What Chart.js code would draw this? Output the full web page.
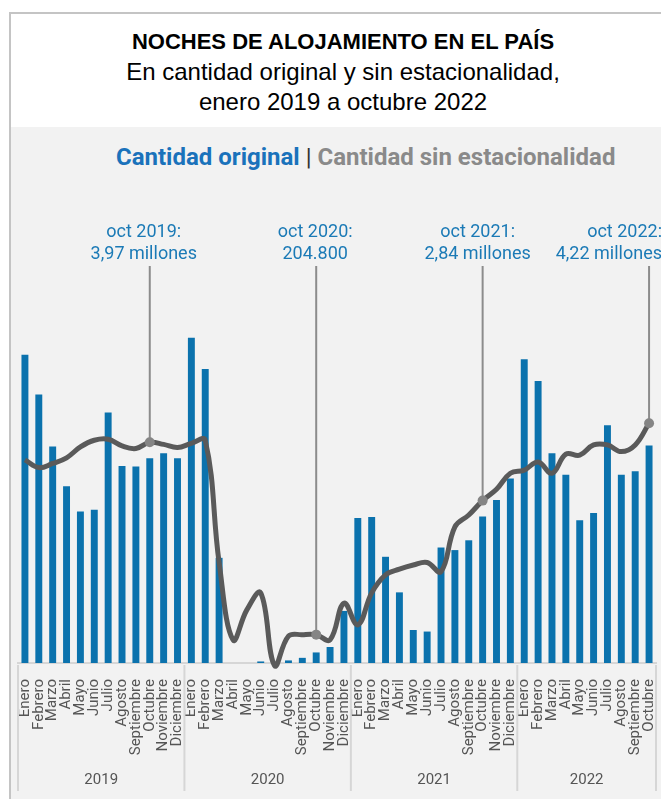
<!DOCTYPE html>
<html lang="es">
<head>
<meta charset="utf-8">
<title>Noches de alojamiento en el país</title>
<script src="https://cdn.jsdelivr.net/npm/chart.js@4.4.1/dist/chart.umd.min.js"></script>
<style>
    html, body { margin: 0; padding: 0; background: #ffffff; overflow: hidden; }
    body { width: 661px; height: 799px; position: relative; font-family: Roboto, sans-serif; }
    .card { position: absolute; left: 9px; top: 12px; width: 670px; height: 800px; border: 2px solid #c4c4c4; background: #f2f2f2; }
    .head { position: absolute; left: 0; top: 0; width: 664px; height: 113px; background: #ffffff; text-align: center; font-family: "Liberation Sans", Arial, sans-serif; color: #000; }
    .head .t1 { position: absolute; left: 0; right: 0; top: 15px; font-size: 22px; font-weight: bold; }
    .head .t2 { position: absolute; left: 0; right: 0; top: 44px; font-size: 24px; }
    .head .t3 { position: absolute; left: 0; right: 0; top: 74px; font-size: 24px; }
    .legend { position: absolute; left: 116px; top: 143px; font-size: 24px; font-weight: bold; white-space: nowrap; }
    .legend .a { color: #1a72bb; }
    .legend .sep { color: #333333; font-weight: normal; }
    .legend .b { color: #8a8a8a; }
    #chart { position: absolute; left: 0; top: 0; }
</style>
</head>
<body>
<div class="card">
    <div class="head">
        <div class="t1">NOCHES DE ALOJAMIENTO EN EL PAÍS</div>
        <div class="t2">En cantidad original y sin estacionalidad,</div>
        <div class="t3">enero 2019 a octubre 2022</div>
    </div>
</div>
<div class="legend"><span class="a">Cantidad original</span><span class="sep"> | </span><span class="b">Cantidad sin estacionalidad</span></div>
<canvas id="chart" width="661" height="799"></canvas>

<script>
// meses y años
const meses = ['Enero', 'Febrero', 'Marzo', 'Abril', 'Mayo', 'Junio', 'Julio', 'Agosto',
    'Septiembre', 'Octubre', 'Noviembre', 'Diciembre'];
const anios = ['2019', '2020', '2021', '2022'];
const mesesPorAnio = [12, 12, 12, 10];

// millones de noches
const cantidadOriginal = [
    5.98, 5.21, 4.20, 3.43, 2.94, 2.97, 4.86, 3.82, 3.81, 3.97, 4.07, 3.97,
    6.31, 5.70, 2.04, 0, 0, 0.03, 0.02, 0.05, 0.10, 0.2048, 0.31, 1.01,
    2.81, 2.83, 2.06, 1.37, 0.64, 0.61, 2.24, 2.19, 2.38, 2.84, 3.16, 3.58,
    5.89, 5.47, 4.07, 3.65, 2.77, 2.91, 4.61, 3.65, 3.72, 4.22
];
const sinEstacionalidad = [
    3.94, 3.79, 3.87, 3.98, 4.19, 4.32, 4.34, 4.21, 4.16, 4.28, 4.24, 4.18,
    4.26, 4.32, 1.95, 0.45, 1.03, 1.36, -0.05, 0.52, 0.55, 0.55, 0.45, 1.16,
    0.74, 1.36, 1.71, 1.82, 1.90, 1.95, 1.77, 2.64, 2.87, 3.15, 3.37, 3.68,
    3.74, 3.90, 3.68, 4.05, 4.03, 4.23, 4.23, 4.10, 4.23, 4.65
];

// anotaciones (octubre de cada año)
const notaIndice = [9, 21, 33, 45];
const notaLinea1 = ['oct 2019:', 'oct 2020:', 'oct 2021:', 'oct 2022:'];
const notaLinea2 = ['3,97 millones', '204.800', '2,84 millones', '4,22 millones'];

const etiquetas = [];
anios.forEach((a, k) => {
    for (let m = 0; m < mesesPorAnio[k]; m++) etiquetas.push(meses[m]);
});

const puntoRadio = etiquetas.map((_, i) => notaIndice.includes(i) ? 5 : 0);

const notasPlugin = {
    id: 'notas',
    beforeDatasetsDraw(chart) {
        const { ctx, chartArea, scales } = chart;
        ctx.save();
        ctx.strokeStyle = '#8c8c8c';
        ctx.lineWidth = 2;
        notaIndice.forEach(i => {
            const x = scales.x.getPixelForValue(i);
            const y = scales.y.getPixelForValue(sinEstacionalidad[i]);
            ctx.beginPath();
            ctx.moveTo(x, chartArea.top);
            ctx.lineTo(x, y);
            ctx.stroke();
        });
        ctx.restore();
    },
    afterDraw(chart) {
        const { ctx, scales, chartArea } = chart;
        const desplaz = [-6, -1, -5];
        ctx.save();
        ctx.font = '18px Roboto';
        ctx.fillStyle = '#1b7ab6';
        ctx.textBaseline = 'middle';
        notaIndice.forEach((i, k) => {
            let x;
            if (k < desplaz.length) {
                ctx.textAlign = 'center';
                x = scales.x.getPixelForValue(i) + desplaz[k];
            } else {
                // la última queda pegada al borde derecho
                ctx.textAlign = 'right';
                x = chart.width + 1;
            }
            ctx.fillText(notaLinea1[k], x, chartArea.top - 34);
            ctx.fillText(notaLinea2[k], x, chartArea.top - 12);
        });

        // separadores y años
        const paso = scales.x.getPixelForValue(1) - scales.x.getPixelForValue(0);
        const yBase = chartArea.bottom + 2;
        ctx.strokeStyle = '#d6d6d6';
        ctx.lineWidth = 2;
        ctx.fillStyle = '#555555';
        ctx.textAlign = 'center';
        ctx.font = '15px Roboto';
        let inicio = 0;
        anios.forEach((a, k) => {
            const x0 = scales.x.getPixelForValue(inicio) - paso / 2;
            const x1 = scales.x.getPixelForValue(inicio + mesesPorAnio[k] - 1) + paso / 2;
            ctx.beginPath();
            ctx.moveTo(x0, yBase);
            ctx.lineTo(x0, yBase + 126);
            ctx.stroke();
            if (k === anios.length - 1) {
                ctx.beginPath();
                ctx.moveTo(x1, yBase);
                ctx.lineTo(x1, yBase + 126);
                ctx.stroke();
            }
            ctx.fillText(a, (x0 + x1) / 2, yBase + 115);
            inicio += mesesPorAnio[k];
        });
        ctx.restore();
    }
};

new Chart(document.getElementById('chart'), {
    type: 'bar',
    data: {
        labels: etiquetas,
        datasets: [{
            type: 'line',
            label: 'Cantidad sin estacionalidad',
            data: sinEstacionalidad,
            borderColor: '#5a5a5a',
            borderWidth: 5,
            tension: 0.4,
            pointRadius: puntoRadio,
            pointBackgroundColor: '#858585',
            pointBorderWidth: 0,
            clip: false,
            order: 0
        }, {
            label: 'Cantidad original',
            data: cantidadOriginal,
            backgroundColor: '#0b72ad',
            barPercentage: 0.5,
            categoryPercentage: 1,
            order: 1
        }]
    },
    options: {
        responsive: false,
        animation: false,
        layout: { padding: { left: 18, right: 3, top: 266, bottom: 0 } },
        plugins: {
            legend: { display: false },
            tooltip: { enabled: false }
        },
        scales: {
            x: {
                grid: { display: false },
                border: { display: true, color: '#d6d6d6', width: 2 },
                ticks: {
                    color: '#555555',
                    font: { family: 'Roboto', size: 15 },
                    minRotation: 90,
                    maxRotation: 90,
                    autoSkip: false,
                    padding: 8
                },
                afterFit(scale) {
                    scale.height = 136;
                    scale.paddingLeft = 0;
                    scale.paddingRight = 0;
                }
            },
            y: {
                display: false,
                min: 0,
                max: 7.7
            }
        }
    },
    plugins: [notasPlugin]
});
</script>
</body>
</html>
